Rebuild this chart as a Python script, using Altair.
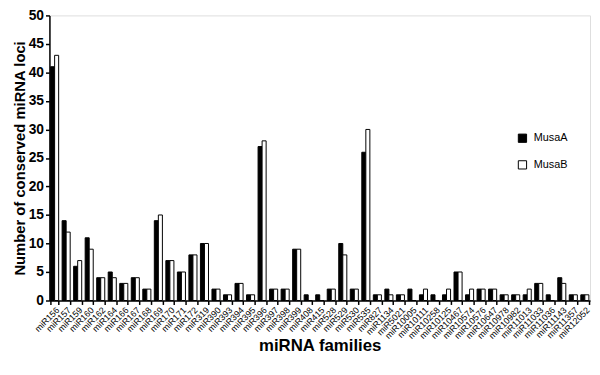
import altair as alt
import pandas as pd

families = ["miR156", "miR157", "miR159", "miR160", "miR162", "miR164", "miR166", "miR167",
            "miR168", "miR169", "miR170", "miR171", "miR172", "miR319", "miR390", "miR393",
            "miR394", "miR395", "miR396", "miR397", "miR398", "miR399", "miR408", "miR415",
            "miR528", "miR529", "miR530", "miR535", "miR827", "miR1134", "miR5021", "miR10005",
            "miR10111", "miR10258", "miR10125", "miR10467", "miR10574", "miR10576", "miR10647",
            "miR10978", "miR10982", "miR11013", "miR11033", "miR11036", "miR11143", "miR11357",
            "miR12052"]
musaA = [41, 14, 6, 11, 4, 5, 3, 4, 2, 14, 7, 5, 8, 10, 2, 1,
         3, 1, 27, 2, 2, 9, 1, 1, 2, 10, 2, 26, 1, 2, 1, 2,
         1, 1, 1, 5, 1, 2, 2, 1, 1, 1, 3, 1, 4, 1, 1]
musaB = [43, 12, 7, 9, 4, 4, 3, 4, 2, 15, 7, 5, 8, 10, 2, 1,
         3, 1, 28, 2, 2, 9, 0, 0, 2, 8, 2, 30, 1, 1, 1, 0,
         2, 0, 2, 5, 2, 2, 2, 1, 1, 2, 3, 0, 3, 1, 1]
series = ["MusaA", "MusaB"]
yticks = [0, 5, 10, 15, 20, 25, 30, 35, 40, 45, 50]

rows = []
for f, a, b in zip(families, musaA, musaB):
    rows.append({"family": f, "genome": "MusaA", "count": a})
    rows.append({"family": f, "genome": "MusaB", "count": b})
df = pd.DataFrame(rows)

FONT = "Arial, Liberation Sans, sans-serif"

chart = alt.Chart(df).mark_bar(stroke="black", strokeWidth=1).encode(
    x=alt.X("family:N", sort=families,
            scale=alt.Scale(paddingInner=0.3, paddingOuter=0.1),
            axis=alt.Axis(title="miRNA families", labelAngle=315, labelFontSize=9,
                          labelColor="black", labelFont=FONT, labelPadding=1,
                          tickBand="extent", tickSize=4, tickWidth=1.5, tickColor="black",
                          domainColor="black", domainWidth=1.5,
                          titleFont=FONT, titleFontSize=17, titleFontWeight="bold",
                          titleColor="black", titleY=46, titleBaseline="middle")),
    xOffset=alt.XOffset("genome:N", sort=series, scale=alt.Scale(paddingInner=0, paddingOuter=0)),
    y=alt.Y("count:Q", scale=alt.Scale(domain=[0, 50], nice=False),
            axis=alt.Axis(title="Number of conserved miRNA loci", values=yticks, grid=False,
                          labelFont=FONT, labelFontSize=14, labelFontWeight="bold",
                          labelColor="black", labelPadding=2,
                          tickSize=4, tickWidth=1.5, tickColor="black",
                          domainColor="black", domainWidth=1.5,
                          titleFont=FONT, titleFontSize=15, titleFontWeight="bold",
                          titleColor="black", titlePadding=1)),
    fill=alt.Fill("genome:N", sort=series,
                  scale=alt.Scale(domain=series, range=["black", "white"]),
                  legend=alt.Legend(title=None, orient="none", legendX=474, legendY=119,
                                    symbolType="square", symbolSize=70, symbolStrokeColor="black",
                                    symbolStrokeWidth=1, labelFont=FONT, labelFontSize=11,
                                    labelColor="black", rowPadding=14, labelOffset=6)),
).properties(
    width=548, height=289,
    autosize=alt.AutoSizeParams(type="none"),
    padding={"left": 42, "top": 5, "right": 2, "bottom": 73},
).configure_view(stroke=None).configure(background="white")

chart.save("out.html", embed_options={"renderer": "svg", "actions": False})
